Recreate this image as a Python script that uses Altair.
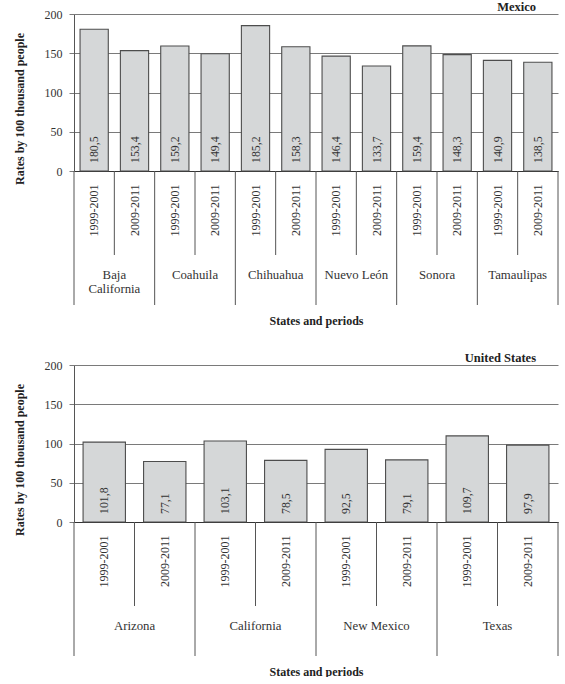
import altair as alt
import pandas as pd

periods = ["1999-2001", "2009-2011"]

mx_states = ["Baja California", "Coahuila", "Chihuahua", "Nuevo León", "Sonora", "Tamaulipas"]
mx_names = ["Baja\nCalifornia", "Coahuila", "Chihuahua", "Nuevo León", "Sonora", "Tamaulipas"]
mx_1999 = [180.5, 159.2, 185.2, 146.4, 159.4, 140.9]
mx_2009 = [153.4, 149.4, 158.3, 133.7, 148.3, 138.5]

us_states = ["Arizona", "California", "New Mexico", "Texas"]
us_names = ["Arizona", "California", "New Mexico", "Texas"]
us_1999 = [101.8, 103.1, 92.5, 109.7]
us_2009 = [77.1, 78.5, 79.1, 97.9]

y_ticks = [0, 50, 100, 150, 200]

FONT = "Liberation Serif"
W, H = 484, 157
SHORT, LONG = 84, 134
LINE = "#555555"

XAXIS = alt.Axis(
    title="States and periods", labelExpr="split(datum.label, '|')[1]",
    labelAngle=-90, labelAlign="right", labelBaseline="middle", labelPadding=13,
    ticks=False, domain=True, domainColor="#333333", grid=False,
    labelFont=FONT, labelFontSize=12, labelColor="#333333",
    titleFont=FONT, titleFontSize=12, titleFontWeight="bold", titleColor="#222222",
    titleY=149, titleBaseline="middle")

YAXIS = alt.Axis(
    values=y_ticks, labelOverlap=False, title="Rates by 100 thousand people",
    grid=True, gridColor="#7a7a7a", gridWidth=1, tickSize=5, tickColor="#7a7a7a",
    domainColor=LINE, labelFont=FONT, labelFontSize=12, labelColor="#333333",
    labelPadding=7, titleFont=FONT, titleFontSize=12, titleFontWeight="bold",
    titleColor="#222222", titlePadding=18, titleY=H / 2 + 16)


def build(states, names, v1, v2, title):
    rows = []
    for s, a, b in zip(states, v1, v2):
        for p, v in zip(periods, (a, b)):
            rows.append({"key": f"{s}|{p}", "state": s, "period": p, "value": v,
                         "label": f"{v:.1f}".replace(".", ","), "zero": 0})
    df = pd.DataFrame(rows)
    keys = list(df["key"])
    first = pd.DataFrame({"key": [f"{s}|{periods[0]}" for s in states], "name": names})
    second = pd.DataFrame({"key": [f"{s}|{periods[1]}" for s in states]})
    last = pd.DataFrame({"key": [keys[-1]]})

    xs = alt.Scale(domain=keys, paddingInner=0, paddingOuter=0)
    ys = alt.Scale(domain=[0, 200], nice=False)

    bars = alt.Chart(df).mark_bar(
        width=alt.RelativeBandSize(0.7), fill="#d5d7d8", stroke="#4d4d4d", strokeWidth=1.1
    ).encode(
        x=alt.X("key:N", scale=xs, axis=XAXIS),
        y=alt.Y("value:Q", scale=ys, axis=YAXIS),
    )

    vals = alt.Chart(df).mark_text(
        angle=270, align="left", baseline="middle", dx=8, font=FONT, fontSize=11.8,
        color="#333333"
    ).encode(x=alt.X("key:N", scale=xs, axis=XAXIS),
             y=alt.Y("zero:Q", scale=ys, axis=YAXIS),
             text="label:N")

    short = alt.Chart(second).mark_rule(color=LINE, strokeWidth=1).encode(
        x=alt.X("key:N", scale=xs, bandPosition=0, axis=XAXIS),
        y=alt.value(H), y2=alt.value(H + SHORT))
    long_ = alt.Chart(first).mark_rule(color=LINE, strokeWidth=1).encode(
        x=alt.X("key:N", scale=xs, bandPosition=0, axis=XAXIS),
        y=alt.value(H), y2=alt.value(H + LONG))
    end = alt.Chart(last).mark_rule(color=LINE, strokeWidth=1).encode(
        x=alt.X("key:N", scale=xs, bandPosition=1, axis=XAXIS),
        y=alt.value(H), y2=alt.value(H + LONG))
    labels = alt.Chart(first).mark_text(
        baseline="top", lineBreak="\n", font=FONT, fontSize=12.8, lineHeight=13.5,
        color="#333333"
    ).encode(x=alt.X("key:N", scale=xs, bandPosition=1, axis=XAXIS),
             y=alt.value(H + 98), text="name:N")

    return alt.layer(bars, vals, short, long_, end, labels).properties(
        width=W, height=H,
        title=alt.Title(title, anchor="end", frame="group", dx=-22, offset=-5, font=FONT,
                        fontSize=12.5, fontWeight="bold", color="#222222"),
    )


top = build(mx_states, mx_names, mx_1999, mx_2009, "Mexico")
bottom = build(us_states, us_names, us_1999, us_2009, "United States")

chart = alt.vconcat(top, bottom, spacing=25).properties(
    padding={"left": 13, "top": 0, "right": 5, "bottom": 0}
).configure_view(stroke=None)

chart.save("out.html", embed_options={"renderer": "svg", "actions": False})
